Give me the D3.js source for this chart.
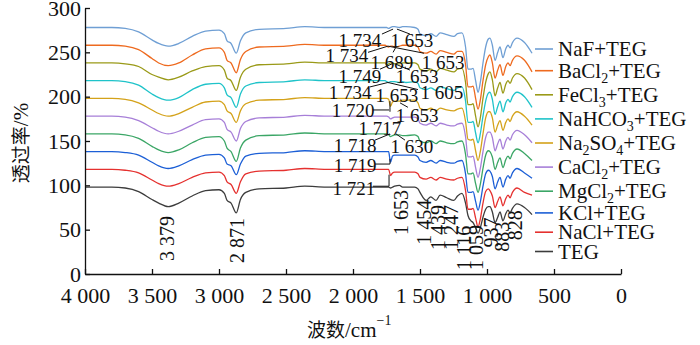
<!DOCTYPE html>
<html>
<head>
<meta charset="utf-8">
<script src="https://cdn.jsdelivr.net/npm/d3@7"></script>
<style>
  body { margin: 0; background: #fff; }
  svg { display: block; }
</style>
</head>
<body>
<div id="spectra"></div>
<script>
// wavenumber grid, cm-1 (descending)
const wavenumbers = [
  4000, 3800, 3700, 3600, 3500, 3450, 3379, 3300, 3200, 3100, 3000, 2960, 2940, 2910, 2871, 2840, 2800, 2700, 2500, 2360, 2200, 2000, 1800,
  1760, 1749, 1734, 1720, 1705, 1689, 1653, 1630, 1605,
  1540, 1515, 1500, 1454, 1420, 1380, 1350, 1300, 1247, 1220, 1187, 1160, 1142, 1120, 1104, 1085, 1067, 1050, 1030, 1010, 990, 978, 960, 940, 920, 903, 881, 860, 843, 828, 810, 776, 720, 664
];

const nafTeg = [
  278, 278, 277, 273, 264, 260, 257, 260, 268, 274, 275, 271, 263, 260, 249, 263, 272, 276, 277, 279, 278, 278, 278,
  278, 278, 277, 278, 279, 279, 278, 279, 279,
  278, 276, 271, 269, 271, 268, 272, 270, 268, 271, 272, 256, 231, 231, 232, 218, 205, 216, 238, 256, 265, 266, 258, 241, 250, 256, 244, 254, 258, 255, 261, 266, 261, 249
];
const bacl2Teg = [
  258, 258, 257, 253, 243, 238, 235, 238, 247, 254, 255, 250, 241, 238, 227, 242, 251, 256, 257, 259, 258, 258, 258,
  258, 257, 256, 257, 257, 256, 257, 258, 258,
  258, 256, 251, 249, 251, 248, 252, 250, 248, 251, 251, 236, 211, 211, 212, 198, 186, 196, 218, 236, 245, 247, 238, 221, 230, 236, 224, 234, 238, 235, 241, 246, 241, 228
];
const fecl3Teg = [
  238, 238, 237, 234, 225, 222, 219, 222, 229, 234, 235, 230, 221, 218, 207, 222, 231, 236, 237, 239, 238, 238, 238,
  238, 236, 237, 238, 238, 237, 237, 238, 238,
  238, 236, 231, 229, 231, 228, 232, 230, 228, 231, 232, 216, 191, 191, 192, 178, 166, 176, 198, 216, 226, 228, 219, 201, 210, 216, 204, 214, 218, 215, 221, 226, 221, 208
];
const nahco3Teg = [
  218, 218, 217, 213, 203, 199, 196, 199, 208, 214, 215, 210, 202, 199, 188, 203, 212, 216, 217, 219, 218, 218, 218,
  218, 217, 216, 217, 217, 217, 216, 217, 216,
  217, 215, 210, 208, 210, 207, 211, 209, 207, 210, 211, 195, 171, 171, 172, 159, 148, 158, 178, 195, 204, 205, 197, 180, 189, 195, 183, 193, 197, 194, 200, 205, 200, 188
];
const na2so4Teg = [
  198, 198, 197, 193, 185, 181, 178, 181, 188, 194, 195, 191, 184, 181, 171, 184, 192, 196, 197, 199, 198, 198, 198,
  198, 198, 197, 189, 194, 195, 195, 196, 196,
  196, 193, 187, 185, 187, 184, 187, 185, 184, 186, 187, 172, 152, 151, 152, 139, 128, 138, 158, 176, 183, 183, 176, 160, 168, 173, 162, 171, 175, 172, 178, 183, 178, 168
];
const cacl2Teg = [
  178, 178, 177, 173, 165, 161, 158, 161, 168, 174, 175, 171, 163, 160, 150, 164, 172, 176, 177, 179, 178, 178, 178,
  178, 178, 177, 175, 176, 177, 177, 177, 177,
  177, 175, 170, 168, 170, 167, 170, 168, 167, 169, 170, 155, 132, 132, 133, 120, 109, 119, 138, 154, 160, 160, 154, 139, 147, 152, 141, 150, 154, 151, 157, 162, 157, 148
];
const mgcl2Teg = [
  158, 158, 157, 153, 144, 140, 137, 140, 148, 154, 155, 150, 142, 138, 127, 142, 151, 156, 157, 159, 158, 158, 158,
  158, 158, 157, 155, 156, 157, 157, 156, 156,
  157, 155, 150, 148, 150, 147, 150, 148, 147, 149, 150, 135, 113, 113, 114, 102, 92, 101, 119, 134, 139, 138, 132, 118, 126, 131, 120, 129, 133, 130, 136, 141, 136, 128
];
const kclTeg = [
  138, 138, 137, 134, 126, 122, 119, 122, 129, 134, 135, 131, 124, 122, 112, 124, 133, 136, 137, 139, 138, 138, 138,
  138, 138, 138, 126, 133, 134, 134, 134, 134,
  134, 132, 128, 126, 128, 125, 128, 126, 125, 127, 128, 113, 92, 92, 93, 82, 72, 81, 99, 113, 117, 116, 110, 96, 104, 109, 98, 107, 111, 108, 114, 119, 114, 108
];
const naclTeg = [
  118, 118, 117, 114, 106, 102, 99, 102, 109, 114, 115, 111, 104, 101, 91, 104, 113, 116, 117, 119, 118, 118, 118,
  118, 118, 118, 111, 114, 115, 115, 115, 115,
  115, 113, 109, 107, 109, 106, 109, 107, 106, 108, 109, 94, 73, 73, 74, 63, 53, 62, 80, 93, 96, 94, 88, 75, 82, 87, 77, 85, 89, 86, 92, 97, 92, 89
];
const teg = [
  98, 98, 97, 93, 84, 80, 76, 80, 88, 94, 95, 91, 83, 80, 69, 84, 92, 96, 97, 99, 98, 98, 98,
  98, 98, 98, 97, 98, 99, 100, 98, 98,
  98, 96, 92, 83, 87, 83, 89, 86, 83, 88, 91, 80, 66, 60, 58, 52, 46, 52, 64, 73, 76, 76, 70, 58, 64, 70, 60, 68, 72, 69, 74, 79, 75, 67
];

const seriesNames = ['NaF+TEG', 'BaCl2+TEG', 'FeCl3+TEG', 'NaHCO3+TEG', 'Na2SO4+TEG',
  'CaCl2+TEG', 'MgCl2+TEG', 'KCl+TEG', 'NaCl+TEG', 'TEG'];
const seriesValues = [nafTeg, bacl2Teg, fecl3Teg, nahco3Teg, na2so4Teg, cacl2Teg, mgcl2Teg, kclTeg, naclTeg, teg];
const seriesColors = ['#6f9fd4', '#ee6a1f', '#9a9a18', '#1fc3c9', '#d4a21a',
  '#a77fd8', '#3ba666', '#1c5fd6', '#e5312f', '#3c3c3c'];

const xTicks = [4000, 3500, 3000, 2500, 2000, 1500, 1000, 500, 0];
const yTicks = [0, 50, 100, 150, 200, 250, 300];

// axis titles: 波数 (wavenumber), 透过率 (transmittance)
const xTitleCjk = '\u6ce2\u6570';
const yTitleCjk = '\u900f\u8fc7\u7387';

// peak labels: [text, wavenumber, value]
const flatLabels = [
  ['1 734', 1948, 256], ['1 653', 1560, 256],
  ['1 734', 2045, 239], ['1 689', 1709, 231], ['1 653', 1328, 231],
  ['1 749', 1948, 215], ['1 653', 1522, 215],
  ['1 734', 2022, 197], ['1 653', 1672, 194], ['1 605', 1336, 197],
  ['1 720', 2000, 177], ['1 653', 1522, 171],
  ['1 717', 1799, 157],
  ['1 718', 1985, 138], ['1 630', 1560, 136],
  ['1 719', 1985, 115],
  ['1 721', 1993, 89]
];
const upLabels = [
  ['3 379', 3336, 14.7], ['2 871', 2810, 12.4], ['1 653', 1590, 44], ['1 454', 1418, 33],
  ['1 439', 1313, 27], ['1 247', 1216, 27], ['1 116', 1119, 4.5], ['1 059', 1030, 4.5],
  ['937', 918, 30], ['883', 836, 25], ['828', 739, 38]
];
const leaders = [
  [[1784, 270.6], [1701, 276.2]], [[1672, 276.2], [1575, 270.6]],
  [[1888, 250], [1739, 257]], [[1739, 257], [1470, 249]], [[1701, 250], [1679, 256]],
  [[1799, 231], [1709, 237]], [[1687, 237], [1575, 230]],
  [[1873, 211], [1739, 216]], [[1739, 216], [1515, 208]],
  [[1851, 185], [1731, 185]], [[1724, 183], [1724, 195]], [[1649, 193], [1590, 188]],
  [[1836, 151], [1724, 158]], [[1679, 158], [1612, 151]],
  [[1836, 124], [1724, 124]], [[1724, 124], [1724, 130]],
  [[1851, 99], [1731, 99]], [[1731, 99], [1731, 112]]
];

const serifFont = 'Liberation Serif';
const cjkFont = 'Noto Sans CJK SC';

const width = 700, height = 345;
const margin = { left: 85, right: 79, top: 8, bottom: 71 };

const svg = d3.select('#spectra').append('svg')
  .attr('width', width)
  .attr('height', height)
  .attr('font-family', serifFont)
  .style('font-family', serifFont);

const x = d3.scaleLinear().domain([4000, 0]).range([margin.left, width - margin.right]);
const y = d3.scaleLinear().domain([0, 300]).range([height - margin.bottom, margin.top]);

const line = d3.line()
  .x((d, i) => x(wavenumbers[i]))
  .y(d => y(d))
  .curve(d3.curveMonotoneX);

function serif(sel) {
  return sel.attr('font-family', serifFont).style('font-family', serifFont);
}

// spectra, bottom first
seriesValues.slice().reverse().forEach((vals, k) => {
  const i = seriesValues.length - 1 - k;
  svg.append('path')
    .attr('d', line(vals))
    .attr('fill', 'none')
    .attr('stroke', seriesColors[i])
    .attr('stroke-width', 1.3);
});

// annotations
svg.append('g')
  .selectAll('line')
  .data(leaders)
  .enter().append('line')
  .attr('x1', d => x(d[0][0])).attr('y1', d => y(d[0][1]))
  .attr('x2', d => x(d[1][0])).attr('y2', d => y(d[1][1]))
  .attr('stroke', '#111')
  .attr('stroke-width', 1);

svg.append('g')
  .selectAll('text')
  .data(flatLabels)
  .enter().append('text')
  .attr('x', d => x(d[1]))
  .attr('y', d => y(d[2]))
  .attr('text-anchor', 'middle')
  .attr('font-size', 19)
  .attr('fill', '#111')
  .call(serif)
  .text(d => d[0]);

svg.append('g')
  .selectAll('text')
  .data(upLabels)
  .enter().append('text')
  .attr('transform', d => `translate(${x(d[1])},${y(d[2])}) rotate(-90)`)
  .attr('font-size', 20)
  .attr('fill', '#111')
  .call(serif)
  .text(d => d[0]);

// axes
const fmt = d => d >= 1000 ? Math.floor(d / 1000) + ' ' + String(d % 1000).padStart(3, '0') : String(d);

const xAxis = svg.append('g')
  .attr('transform', `translate(0,${y(0)})`)
  .call(d3.axisBottom(x).tickValues(xTicks).tickFormat(fmt).tickSizeInner(-5).tickSizeOuter(0).tickPadding(13));
const yAxis = svg.append('g')
  .attr('transform', `translate(${x(4000)},0)`)
  .call(d3.axisLeft(y).tickValues(yTicks).tickSizeInner(-5).tickSizeOuter(0).tickPadding(4));

[xAxis, yAxis].forEach(g => {
  g.call(serif);
  g.selectAll('path, line').attr('stroke', '#111').attr('stroke-width', 1.3);
  g.selectAll('text')
    .attr('font-size', 22)
    .attr('fill', '#111')
    .call(serif);
});

// axis titles
const xTitle = svg.append('text')
  .attr('x', 307)
  .attr('y', 337)
  .attr('font-size', 21)
  .attr('fill', '#111')
  .call(serif);
xTitle.append('tspan')
  .attr('font-family', cjkFont).style('font-family', cjkFont)
  .attr('font-size', 19).text(xTitleCjk);
xTitle.append('tspan').call(serif).text('/cm');
xTitle.append('tspan').call(serif).attr('font-size', 14).attr('dy', -12).text('\u22121');

const yTitle = svg.append('text')
  .attr('transform', 'translate(28,143) rotate(-90)')
  .attr('text-anchor', 'middle')
  .attr('font-size', 21)
  .attr('fill', '#111')
  .call(serif);
yTitle.append('tspan')
  .attr('font-family', cjkFont).style('font-family', cjkFont)
  .attr('font-size', 19).text(yTitleCjk);
yTitle.append('tspan').call(serif).text('/%');

// legend
const legend = svg.append('g');
let rowY = 49;
seriesNames.forEach((name, i) => {
  if (i > 0) {
    const subs = (/\d/.test(name) ? 1 : 0) + (/\d/.test(seriesNames[i - 1]) ? 1 : 0);
    rowY += 19.3 + 2.4 * subs;
  }
  legend.append('line')
    .attr('x1', 535).attr('x2', 553)
    .attr('y1', rowY).attr('y2', rowY)
    .attr('stroke', seriesColors[i])
    .attr('stroke-width', 1.6);
  const t = legend.append('text')
    .attr('x', 558)
    .attr('y', rowY + 7)
    .attr('font-size', 21)
    .attr('fill', '#111')
    .call(serif);
  let shift = 0;
  name.split(/(\d)/).filter(s => s.length).forEach(part => {
    if (/\d/.test(part)) {
      t.append('tspan').call(serif).attr('font-size', 14).attr('dy', 5 - shift).text(part);
      shift = 5;
    } else {
      t.append('tspan').call(serif).attr('dy', -shift).text(part);
      shift = 0;
    }
  });
});
</script>
</body>
</html>
